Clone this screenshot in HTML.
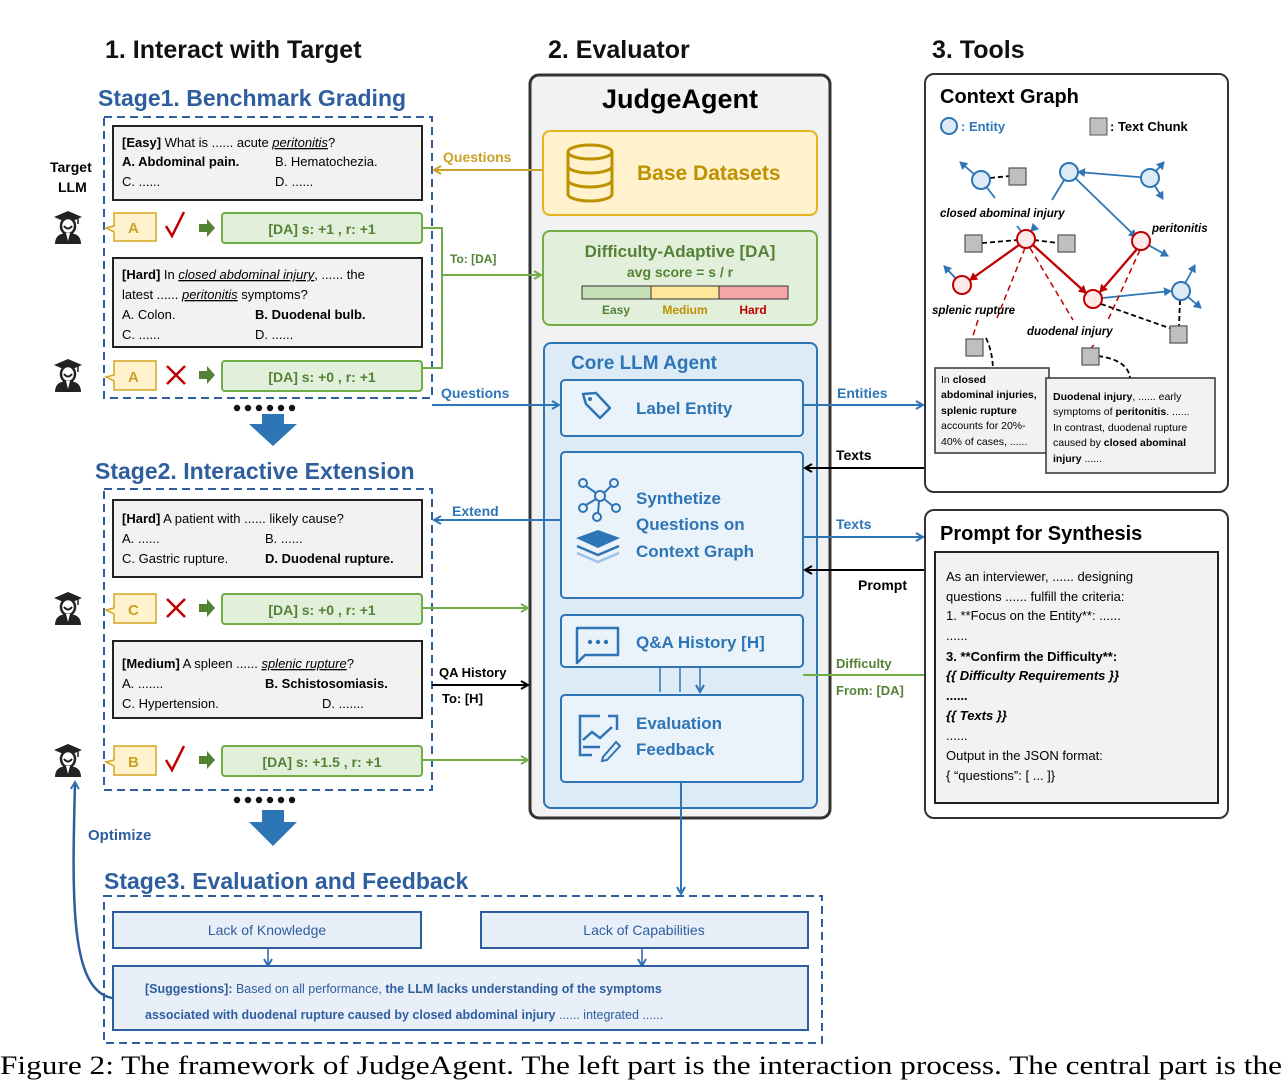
<!DOCTYPE html>
<html><head><meta charset="utf-8"><style>
html,body{margin:0;padding:0;background:#fff;}
svg{display:block;font-family:"Liberation Sans",sans-serif;}
.b{font-weight:bold}
.i{font-style:italic}
</style></head><body>
<svg width="1286" height="1080" viewBox="0 0 1286 1080" xmlns="http://www.w3.org/2000/svg">
<defs>
<marker id="ab" markerWidth="10" markerHeight="10" refX="8" refY="5" orient="auto" markerUnits="userSpaceOnUse"><path d="M1,1 L8,5 L1,9" fill="none" stroke="#2e75b6" stroke-width="2"/></marker>
<marker id="ak" markerWidth="10" markerHeight="10" refX="8" refY="5" orient="auto" markerUnits="userSpaceOnUse"><path d="M1,1 L8,5 L1,9" fill="none" stroke="#000" stroke-width="2"/></marker>
<marker id="ag" markerWidth="10" markerHeight="10" refX="8" refY="5" orient="auto" markerUnits="userSpaceOnUse"><path d="M1,1 L8,5 L1,9" fill="none" stroke="#70ad47" stroke-width="2"/></marker>
<marker id="ay" markerWidth="10" markerHeight="10" refX="8" refY="5" orient="auto" markerUnits="userSpaceOnUse"><path d="M1,1 L8,5 L1,9" fill="none" stroke="#c9a227" stroke-width="2"/></marker>
<marker id="ar" markerWidth="9" markerHeight="9" refX="7" refY="4.5" orient="auto" markerUnits="userSpaceOnUse"><path d="M0,0 L8,4.5 L0,9 z" fill="#c00000"/></marker>
<marker id="ab2" markerWidth="9" markerHeight="9" refX="7" refY="4.5" orient="auto" markerUnits="userSpaceOnUse"><path d="M0,0 L8,4.5 L0,9 z" fill="#2e75b6"/></marker>
<g id="stu">
<path d="M-14,-7 L0,-13 L14,-7 L0,-1 z" fill="#222"/>
<path d="M10,-7 L10,0" stroke="#222" stroke-width="1.5"/>
<ellipse cx="0" cy="2" rx="7" ry="8" fill="#fff" stroke="#222" stroke-width="2.5"/>
<path d="M-4,2 Q0,7 4,2" stroke="#222" stroke-width="2" fill="none"/>
<path d="M-13,20 Q-13,9 0,9 Q13,9 13,20 z" fill="#222"/>
<path d="M-2,9 L0,17 L2,9 z" fill="#fff"/>
</g>
<g id="chk"><path d="M-10,0 L-4,10 L8,-14" stroke="#c00000" stroke-width="2.5" fill="none"/></g>
<g id="crs"><path d="M-9,-9 L9,9 M9,-9 L-9,9" stroke="#c00000" stroke-width="2.5"/></g>
<g id="garr"><path d="M-8,-4 L0,-4 L0,-9 L8,0 L0,9 L0,4 L-8,4 z" fill="#548235"/></g>
<g id="dots" fill="#111"><circle cx="0" cy="0" r="3.2"/><circle cx="11" cy="0" r="3.2"/><circle cx="22" cy="0" r="3.2"/><circle cx="33" cy="0" r="3.2"/><circle cx="44" cy="0" r="3.2"/><circle cx="55" cy="0" r="3.2"/></g>
</defs>

<text x="105" y="58" font-size="25" class="b" fill="#111">1. Interact with Target</text>
<text x="548" y="58" font-size="25" class="b" fill="#111">2. Evaluator</text>
<text x="932" y="58" font-size="25" class="b" fill="#111">3. Tools</text>

<text x="98" y="106" font-size="23" class="b" fill="#2e5e9e">Stage1. Benchmark Grading</text>
<rect x="104" y="117" width="328" height="281" fill="none" stroke="#2e5e9e" stroke-width="2" stroke-dasharray="8,5"/>
<text x="50" y="172" font-size="14" class="b">Target</text>
<text x="58" y="192" font-size="14" class="b">LLM</text>
<rect x="113" y="126" width="309" height="74" fill="#f2f2f2" stroke="#222" stroke-width="2"/>
<text x="122" y="147" font-size="13"><tspan class="b">[Easy]</tspan> What is ...... acute <tspan class="i" text-decoration="underline">peritonitis</tspan>?</text>
<text x="122" y="166" font-size="13" class="b">A. Abdominal pain.</text>
<text x="275" y="166" font-size="13">B. Hematochezia.</text>
<text x="122" y="186" font-size="13">C. ......</text>
<text x="275" y="186" font-size="13">D. ......</text>

<use href="#stu" x="68" y="224"/>
<path d="M114,213 L156,213 L156,241 L114,241 L114,232 L106,228 L114,226 z" fill="#fff2cc" stroke="#d6a520" stroke-width="1.5"/>
<text x="128" y="233" font-size="15" class="b" fill="#c9a227">A</text>
<use href="#chk" x="176" y="226"/>
<use href="#garr" x="207" y="228"/>
<rect x="222" y="213" width="200" height="30" rx="3" fill="#e2efda" stroke="#70ad47" stroke-width="2"/>
<text x="322" y="234" font-size="14" class="b" fill="#548235" text-anchor="middle">[DA]  s: +1  ,  r: +1</text>

<rect x="113" y="258" width="309" height="89" fill="#f2f2f2" stroke="#222" stroke-width="2"/>
<text x="122" y="279" font-size="13"><tspan class="b">[Hard]</tspan> In <tspan class="i" text-decoration="underline">closed abdominal injury</tspan>, ...... the</text>
<text x="122" y="299" font-size="13">latest ...... <tspan class="i" text-decoration="underline">peritonitis</tspan> symptoms?</text>
<text x="122" y="319" font-size="13">A. Colon.</text>
<text x="255" y="319" font-size="13" class="b">B. Duodenal bulb.</text>
<text x="122" y="339" font-size="13">C. ......</text>
<text x="255" y="339" font-size="13">D. ......</text>

<use href="#stu" x="68" y="372"/>
<path d="M114,361 L156,361 L156,390 L114,390 L114,381 L106,377 L114,375 z" fill="#fff2cc" stroke="#d6a520" stroke-width="1.5"/>
<text x="128" y="382" font-size="15" class="b" fill="#c9a227">A</text>
<use href="#crs" x="176" y="375"/>
<use href="#garr" x="207" y="375"/>
<rect x="222" y="361" width="200" height="30" rx="3" fill="#e2efda" stroke="#70ad47" stroke-width="2"/>
<text x="322" y="382" font-size="14" class="b" fill="#548235" text-anchor="middle">[DA]  s: +0  ,  r: +1</text>
<use href="#dots" x="237" y="408"/>

<path d="M262,414 L284,414 L284,424 L297,424 L273,446 L249,424 L262,424 z" fill="#2e75b6"/>

<text x="95" y="479" font-size="23" class="b" fill="#2e5e9e">Stage2. Interactive Extension</text>
<rect x="104" y="489" width="328" height="301" fill="none" stroke="#2e5e9e" stroke-width="2" stroke-dasharray="8,5"/>
<rect x="113" y="500" width="309" height="77" fill="#f2f2f2" stroke="#222" stroke-width="2"/>
<text x="122" y="523" font-size="13"><tspan class="b">[Hard]</tspan> A patient with ...... likely cause?</text>
<text x="122" y="543" font-size="13">A. ......</text>
<text x="265" y="543" font-size="13">B. ......</text>
<text x="122" y="563" font-size="13">C. Gastric rupture.</text>
<text x="265" y="563" font-size="13" class="b">D. Duodenal rupture.</text>

<use href="#stu" x="68" y="605"/>
<path d="M114,594 L156,594 L156,623 L114,623 L114,614 L106,610 L114,608 z" fill="#fff2cc" stroke="#d6a520" stroke-width="1.5"/>
<text x="128" y="615" font-size="15" class="b" fill="#c9a227">C</text>
<use href="#crs" x="176" y="608"/>
<use href="#garr" x="207" y="608"/>
<rect x="222" y="594" width="200" height="30" rx="3" fill="#e2efda" stroke="#70ad47" stroke-width="2"/>
<text x="322" y="615" font-size="14" class="b" fill="#548235" text-anchor="middle">[DA]  s: +0  ,  r: +1</text>

<rect x="113" y="641" width="309" height="77" fill="#f2f2f2" stroke="#222" stroke-width="2"/>
<text x="122" y="668" font-size="13"><tspan class="b">[Medium]</tspan> A spleen ......  <tspan class="i" text-decoration="underline">splenic rupture</tspan>?</text>
<text x="122" y="688" font-size="13">A. .......</text>
<text x="265" y="688" font-size="13" class="b">B. Schistosomiasis.</text>
<text x="122" y="708" font-size="13">C. Hypertension.</text>
<text x="322" y="708" font-size="13">D. .......</text>

<use href="#stu" x="68" y="757"/>
<path d="M114,746 L156,746 L156,775 L114,775 L114,766 L106,762 L114,760 z" fill="#fff2cc" stroke="#d6a520" stroke-width="1.5"/>
<text x="128" y="767" font-size="15" class="b" fill="#c9a227">B</text>
<use href="#chk" x="176" y="760"/>
<use href="#garr" x="207" y="760"/>
<rect x="222" y="746" width="200" height="30" rx="3" fill="#e2efda" stroke="#70ad47" stroke-width="2"/>
<text x="322" y="767" font-size="14" class="b" fill="#548235" text-anchor="middle">[DA]  s: +1.5  ,  r: +1</text>
<use href="#dots" x="237" y="800"/>

<path d="M262,810 L284,810 L284,822 L297,822 L273,846 L249,822 L262,822 z" fill="#2e75b6"/>
<text x="88" y="840" font-size="15" class="b" fill="#2e5e9e">Optimize</text>

<text x="104" y="889" font-size="23" class="b" fill="#2e5e9e">Stage3. Evaluation and Feedback</text>
<rect x="104" y="896" width="718" height="147" fill="none" stroke="#2e5e9e" stroke-width="2" stroke-dasharray="8,5"/>
<rect x="113" y="912" width="308" height="36" fill="#e8eff9" stroke="#2e5e9e" stroke-width="2"/>
<text x="267" y="935" font-size="14" fill="#2e5e9e" text-anchor="middle">Lack of Knowledge</text>
<rect x="481" y="912" width="327" height="36" fill="#e8eff9" stroke="#2e5e9e" stroke-width="2"/>
<text x="644" y="935" font-size="14" fill="#2e5e9e" text-anchor="middle">Lack of Capabilities</text>
<path d="M268,948 L268,966" stroke="#2e5e9e" stroke-width="1.5" marker-end="url(#ab)"/>
<path d="M642,948 L642,966" stroke="#2e5e9e" stroke-width="1.5" marker-end="url(#ab)"/>
<rect x="113" y="966" width="695" height="64" fill="#e8eff9" stroke="#2e5e9e" stroke-width="2"/>
<text x="145" y="993" font-size="12.5" fill="#2e5e9e"><tspan class="b">[Suggestions]:</tspan>  Based on all performance, <tspan class="b">the LLM lacks understanding of the symptoms</tspan></text>
<text x="145" y="1019" font-size="12.5" fill="#2e5e9e"><tspan class="b">associated with duodenal rupture caused by closed abdominal injury</tspan> ...... integrated ......</text>
<path d="M112,998 C70,990 72,900 75,782" fill="none" stroke="#2e5e9e" stroke-width="2.5" marker-end="url(#ab)"/>

<rect x="530" y="75" width="300" height="743" rx="9" fill="#f2f2f2" stroke="#333" stroke-width="3"/>
<text x="680" y="108" font-size="27" class="b" text-anchor="middle">JudgeAgent</text>
<rect x="543" y="131" width="274" height="84" rx="7" fill="#fff2cc" stroke="#e6b422" stroke-width="2"/>
<g fill="none" stroke="#bf9000" stroke-width="3">
<ellipse cx="590" cy="152" rx="22" ry="7"/>
<path d="M568,152 L568,194 A22,7 0 0 0 612,194 L612,152"/>
<path d="M568,166 A22,7 0 0 0 612,166 M568,180 A22,7 0 0 0 612,180"/>
</g>
<text x="637" y="180" font-size="21" class="b" fill="#bf9000">Base Datasets</text>

<rect x="543" y="231" width="274" height="94" rx="7" fill="#e2efda" stroke="#70ad47" stroke-width="2"/>
<text x="680" y="257" font-size="17" class="b" fill="#548235" text-anchor="middle">Difficulty-Adaptive [DA]</text>
<text x="680" y="277" font-size="14" class="b" fill="#548235" text-anchor="middle">avg score  =  s / r</text>
<rect x="582" y="286" width="69" height="13" fill="#c5e0b4" stroke="#333"/>
<rect x="651" y="286" width="68" height="13" fill="#ffe699" stroke="#333"/>
<rect x="719" y="286" width="69" height="13" fill="#f4a6a6" stroke="#333"/>
<text x="616" y="314" font-size="12" class="b" fill="#548235" text-anchor="middle">Easy</text>
<text x="685" y="314" font-size="12" class="b" fill="#bf9000" text-anchor="middle">Medium</text>
<text x="753" y="314" font-size="12" class="b" fill="#c00000" text-anchor="middle">Hard</text>

<rect x="544" y="343" width="273" height="465" rx="7" fill="#ddebf7" stroke="#2e75b6" stroke-width="2"/>
<text x="571" y="369" font-size="19" class="b" fill="#2e75b6">Core LLM Agent</text>

<rect x="561" y="380" width="242" height="56" rx="4" fill="#eaf2fa" stroke="#2e75b6" stroke-width="2"/>
<path d="M583,394 L596,393 L610,408 L600,418 L586,404 z" fill="none" stroke="#2e75b6" stroke-width="2.5" stroke-linejoin="round"/>
<circle cx="590" cy="399" r="2" fill="#2e75b6"/>
<text x="636" y="414" font-size="17" class="b" fill="#2e75b6">Label Entity</text>

<rect x="561" y="452" width="242" height="146" rx="4" fill="#eaf2fa" stroke="#2e75b6" stroke-width="2"/>
<g stroke="#2e75b6" stroke-width="2" fill="none">
<circle cx="600" cy="496" r="5"/><circle cx="583" cy="483" r="4"/><circle cx="614" cy="483" r="4"/><circle cx="583" cy="508" r="4"/><circle cx="616" cy="508" r="4"/><circle cx="597" cy="517" r="4"/>
<path d="M586,486 L596,493 M611,486 L604,493 M586,505 L596,499 M613,506 L604,499 M599,501 L598,513"/>
</g>
<path d="M576,538 L598,530 L620,538 L598,548 z" fill="#2e75b6"/>
<path d="M577,546 L598,555 L619,546" fill="none" stroke="#2e75b6" stroke-width="2.5"/>
<path d="M577,553 L598,562 L619,553" fill="none" stroke="#9dc3e6" stroke-width="2.5"/>
<text x="636" y="504" font-size="17" class="b" fill="#2e75b6">Synthetize</text>
<text x="636" y="530" font-size="17" class="b" fill="#2e75b6">Questions on</text>
<text x="636" y="557" font-size="17" class="b" fill="#2e75b6">Context Graph</text>

<rect x="561" y="615" width="242" height="52" rx="4" fill="#eaf2fa" stroke="#2e75b6" stroke-width="2"/>
<path d="M578,628 L618,628 L618,655 L585,655 L577,663 L577,628 z" fill="none" stroke="#2e75b6" stroke-width="2.5" stroke-linejoin="round"/>
<circle cx="590" cy="642" r="2.2" fill="#2e75b6"/><circle cx="598" cy="642" r="2.2" fill="#2e75b6"/><circle cx="606" cy="642" r="2.2" fill="#2e75b6"/>
<text x="636" y="648" font-size="17" class="b" fill="#2e75b6">Q&amp;A History [H]</text>
<path d="M660,667 L660,692 M680,667 L680,692 M700,667 L700,692" stroke="#2e75b6" stroke-width="1.5" marker-end="url(#ab)"/>

<rect x="561" y="695" width="242" height="87" rx="4" fill="#eaf2fa" stroke="#2e75b6" stroke-width="2"/>
<path d="M600,716 L580,716 L580,755 L592,755" fill="none" stroke="#2e75b6" stroke-width="2.5"/>
<path d="M608,716 L617,716 L617,730" fill="none" stroke="#2e75b6" stroke-width="2.5"/>
<path d="M583,740 L592,732 L600,738 L612,727" fill="none" stroke="#2e75b6" stroke-width="2.5"/>
<path d="M583,747 L600,747" stroke="#2e75b6" stroke-width="2.5"/>
<path d="M603,757 L616,742 L620,746 L607,760 L602,761 z" fill="none" stroke="#2e75b6" stroke-width="2"/>
<text x="636" y="729" font-size="17" class="b" fill="#2e75b6">Evaluation</text>
<text x="636" y="755" font-size="17" class="b" fill="#2e75b6">Feedback</text>
<path d="M681,782 L681,894" stroke="#2e75b6" stroke-width="2" marker-end="url(#ab)"/>

<path d="M543,170 L434,170" stroke="#c9a227" stroke-width="2" marker-end="url(#ay)"/>
<text x="443" y="162" font-size="14" class="b" fill="#c9a227">Questions</text>
<path d="M422,228 L442,228 L442,368 L422,368 M442,275 L541,275" fill="none" stroke="#70ad47" stroke-width="2" marker-end="url(#ag)"/>
<text x="450" y="263" font-size="12" class="b" fill="#548235">To: [DA]</text>
<path d="M432,405 L559,405" stroke="#2e75b6" stroke-width="2" marker-end="url(#ab)"/>
<text x="441" y="398" font-size="14" class="b" fill="#2e75b6">Questions</text>
<path d="M803,405 L923,405" stroke="#2e75b6" stroke-width="2" marker-end="url(#ab)"/>
<text x="837" y="398" font-size="14" class="b" fill="#2e75b6">Entities</text>
<path d="M925,468 L805,468" stroke="#000" stroke-width="2" marker-end="url(#ak)"/>
<text x="836" y="460" font-size="14" class="b">Texts</text>
<path d="M561,520 L434,520" stroke="#2e75b6" stroke-width="2" marker-end="url(#ab)"/>
<text x="452" y="516" font-size="14" class="b" fill="#2e75b6">Extend</text>
<path d="M803,537 L923,537" stroke="#2e75b6" stroke-width="2" marker-end="url(#ab)"/>
<text x="836" y="529" font-size="14" class="b" fill="#2e75b6">Texts</text>
<path d="M925,570 L805,570" stroke="#000" stroke-width="2" marker-end="url(#ak)"/>
<text x="858" y="590" font-size="14" class="b">Prompt</text>
<path d="M422,608 L528,608" stroke="#70ad47" stroke-width="2" marker-end="url(#ag)"/>
<path d="M422,760 L528,760" stroke="#70ad47" stroke-width="2" marker-end="url(#ag)"/>
<path d="M432,685 L528,685" stroke="#000" stroke-width="2" marker-end="url(#ak)"/>
<text x="439" y="677" font-size="13" class="b">QA History</text>
<text x="442" y="703" font-size="13" class="b">To: [H]</text>
<path d="M803,675 L944,675" stroke="#70ad47" stroke-width="2" marker-end="url(#ag)"/>
<text x="836" y="668" font-size="13" class="b" fill="#548235">Difficulty</text>
<text x="836" y="695" font-size="13" class="b" fill="#548235">From: [DA]</text>

<rect x="925" y="74" width="303" height="418" rx="9" fill="#fff" stroke="#333" stroke-width="2"/>
<text x="940" y="103" font-size="20" class="b">Context Graph</text>
<circle cx="949" cy="126" r="8" fill="#ddebf7" stroke="#2e75b6" stroke-width="2"/>
<text x="961" y="131" font-size="13" class="b" fill="#2e75b6">: Entity</text>
<rect x="1090" y="118" width="17" height="17" fill="#bfbfbf" stroke="#555"/>
<text x="1110" y="131" font-size="13" class="b">:  Text Chunk</text>

<g stroke="#2e75b6" stroke-width="1.8" fill="none">
<path d="M981,180 L960,162" marker-end="url(#ab2)"/>
<path d="M981,180 L995,198"/>
<path d="M1069,172 L1052,200"/>
<path d="M1150,178 L1078,172" marker-end="url(#ab2)"/>
<path d="M1150,178 L1164,162" marker-end="url(#ab2)"/>
<path d="M1150,178 L1163,199" marker-end="url(#ab2)"/>
<path d="M1069,172 L1136,237" marker-end="url(#ab2)"/>
<path d="M1141,241 L1168,256" marker-end="url(#ab2)"/>
<path d="M962,285 L944,266" marker-end="url(#ab2)"/>
<path d="M1093,299 L1171,291" marker-end="url(#ab2)"/>
<path d="M1181,291 L1195,265" marker-end="url(#ab2)"/>
<path d="M1181,291 L1201,308" marker-end="url(#ab2)"/>
<path d="M1017,226 L1021,231 M1036,226 L1031,231" marker-end="url(#ab2)"/>
</g>
<g stroke="#000" stroke-width="1.8" stroke-dasharray="5,3" fill="none">
<path d="M990,178 L1010,176"/><path d="M982,243 L1018,240"/><path d="M1034,240 L1058,243"/>
<path d="M1101,304 L1175,330"/><path d="M1180,300 L1179,326"/>
<path d="M986,338 Q992,350 993,368"/><path d="M1098,356 Q1128,360 1130,378"/>
</g>
<g stroke="#c00000" stroke-width="1.5" stroke-dasharray="6,4" fill="none">
<path d="M1025,248 L997,318"/><path d="M1030,248 L1073,320"/><path d="M1140,250 L1108,320"/>
<path d="M978,320 L972,339"/><path d="M1094,345 L1090,349"/>
</g>
<g stroke="#c00000" stroke-width="2.3" fill="none">
<path d="M1019,245 L970,280" marker-end="url(#ar)"/>
<path d="M1033,245 L1086,293" marker-end="url(#ar)"/>
<path d="M1137,249 L1100,292" marker-end="url(#ar)"/>
</g>
<g fill="#ddebf7" stroke="#2e75b6" stroke-width="2">
<circle cx="981" cy="180" r="9"/><circle cx="1069" cy="172" r="9"/><circle cx="1150" cy="178" r="9"/><circle cx="1181" cy="291" r="9"/>
</g>
<g fill="#fde9e7" stroke="#c00000" stroke-width="2">
<circle cx="1026" cy="239" r="9"/><circle cx="962" cy="285" r="9"/><circle cx="1093" cy="299" r="9"/><circle cx="1141" cy="241" r="9"/>
</g>
<g fill="#bfbfbf" stroke="#555" stroke-width="1.2">
<rect x="1009" y="168" width="17" height="17"/><rect x="965" y="235" width="17" height="17"/><rect x="1058" y="235" width="17" height="17"/>
<rect x="1170" y="326" width="17" height="17"/><rect x="966" y="339" width="17" height="17"/><rect x="1082" y="348" width="17" height="17"/>
</g>
<text x="940" y="217" font-size="11.5" class="b i">closed abominal injury</text>
<text x="1152" y="232" font-size="11.5" class="b i">peritonitis</text>
<text x="932" y="314" font-size="11.5" class="b i">splenic rupture</text>
<text x="1027" y="335" font-size="11.5" class="b i">duodenal injury</text>

<rect x="935" y="368" width="114" height="85" fill="#f2f2f2" stroke="#333" stroke-width="1.5"/>
<text font-size="10.5"><tspan x="941" y="383">In <tspan class="b">closed</tspan></tspan><tspan x="941" y="398" class="b">abdominal injuries,</tspan><tspan x="941" y="414" class="b">splenic rupture</tspan><tspan x="941" y="429">accounts for 20%-</tspan><tspan x="941" y="445">40% of cases, ......</tspan></text>
<rect x="1046" y="378" width="169" height="95" fill="#f2f2f2" stroke="#333" stroke-width="1.5"/>
<text font-size="10.5"><tspan x="1053" y="400"><tspan class="b">Duodenal injury</tspan>, ......  early</tspan><tspan x="1053" y="415">symptoms of <tspan class="b">peritonitis</tspan>. ......</tspan><tspan x="1053" y="431">In contrast, duodenal rupture</tspan><tspan x="1053" y="446">caused by <tspan class="b">closed abominal</tspan></tspan><tspan x="1053" y="462"><tspan class="b">injury</tspan> ......</tspan></text>

<rect x="925" y="510" width="303" height="308" rx="9" fill="#fff" stroke="#333" stroke-width="2"/>
<text x="940" y="540" font-size="20" class="b">Prompt for Synthesis</text>
<rect x="935" y="552" width="283" height="251" fill="#f2f2f2" stroke="#222" stroke-width="2"/>
<g font-size="13">
<text x="946" y="581">As an interviewer, ...... designing</text>
<text x="946" y="601">questions  ...... fulfill the criteria:</text>
<text x="946" y="620">1. **Focus on the Entity**: ......</text>
<text x="946" y="640">......</text>
<text x="946" y="661" class="b">3. **Confirm the Difficulty**:</text>
<text x="946" y="680" class="b i">{{ Difficulty Requirements }}</text>
<text x="946" y="700" class="b">......</text>
<text x="946" y="720" class="b i">{{ Texts }}</text>
<text x="946" y="740">......</text>
<text x="946" y="760">Output in the JSON format:</text>
<text x="946" y="780">{ “questions”: [ ... ]}</text>
</g>

<text x="0" y="1074" font-size="26" font-family="Liberation Serif, serif" textLength="1282" lengthAdjust="spacingAndGlyphs">Figure 2: The framework of JudgeAgent. The left part is the interaction process. The central part is the</text>
</svg>
</body></html>
